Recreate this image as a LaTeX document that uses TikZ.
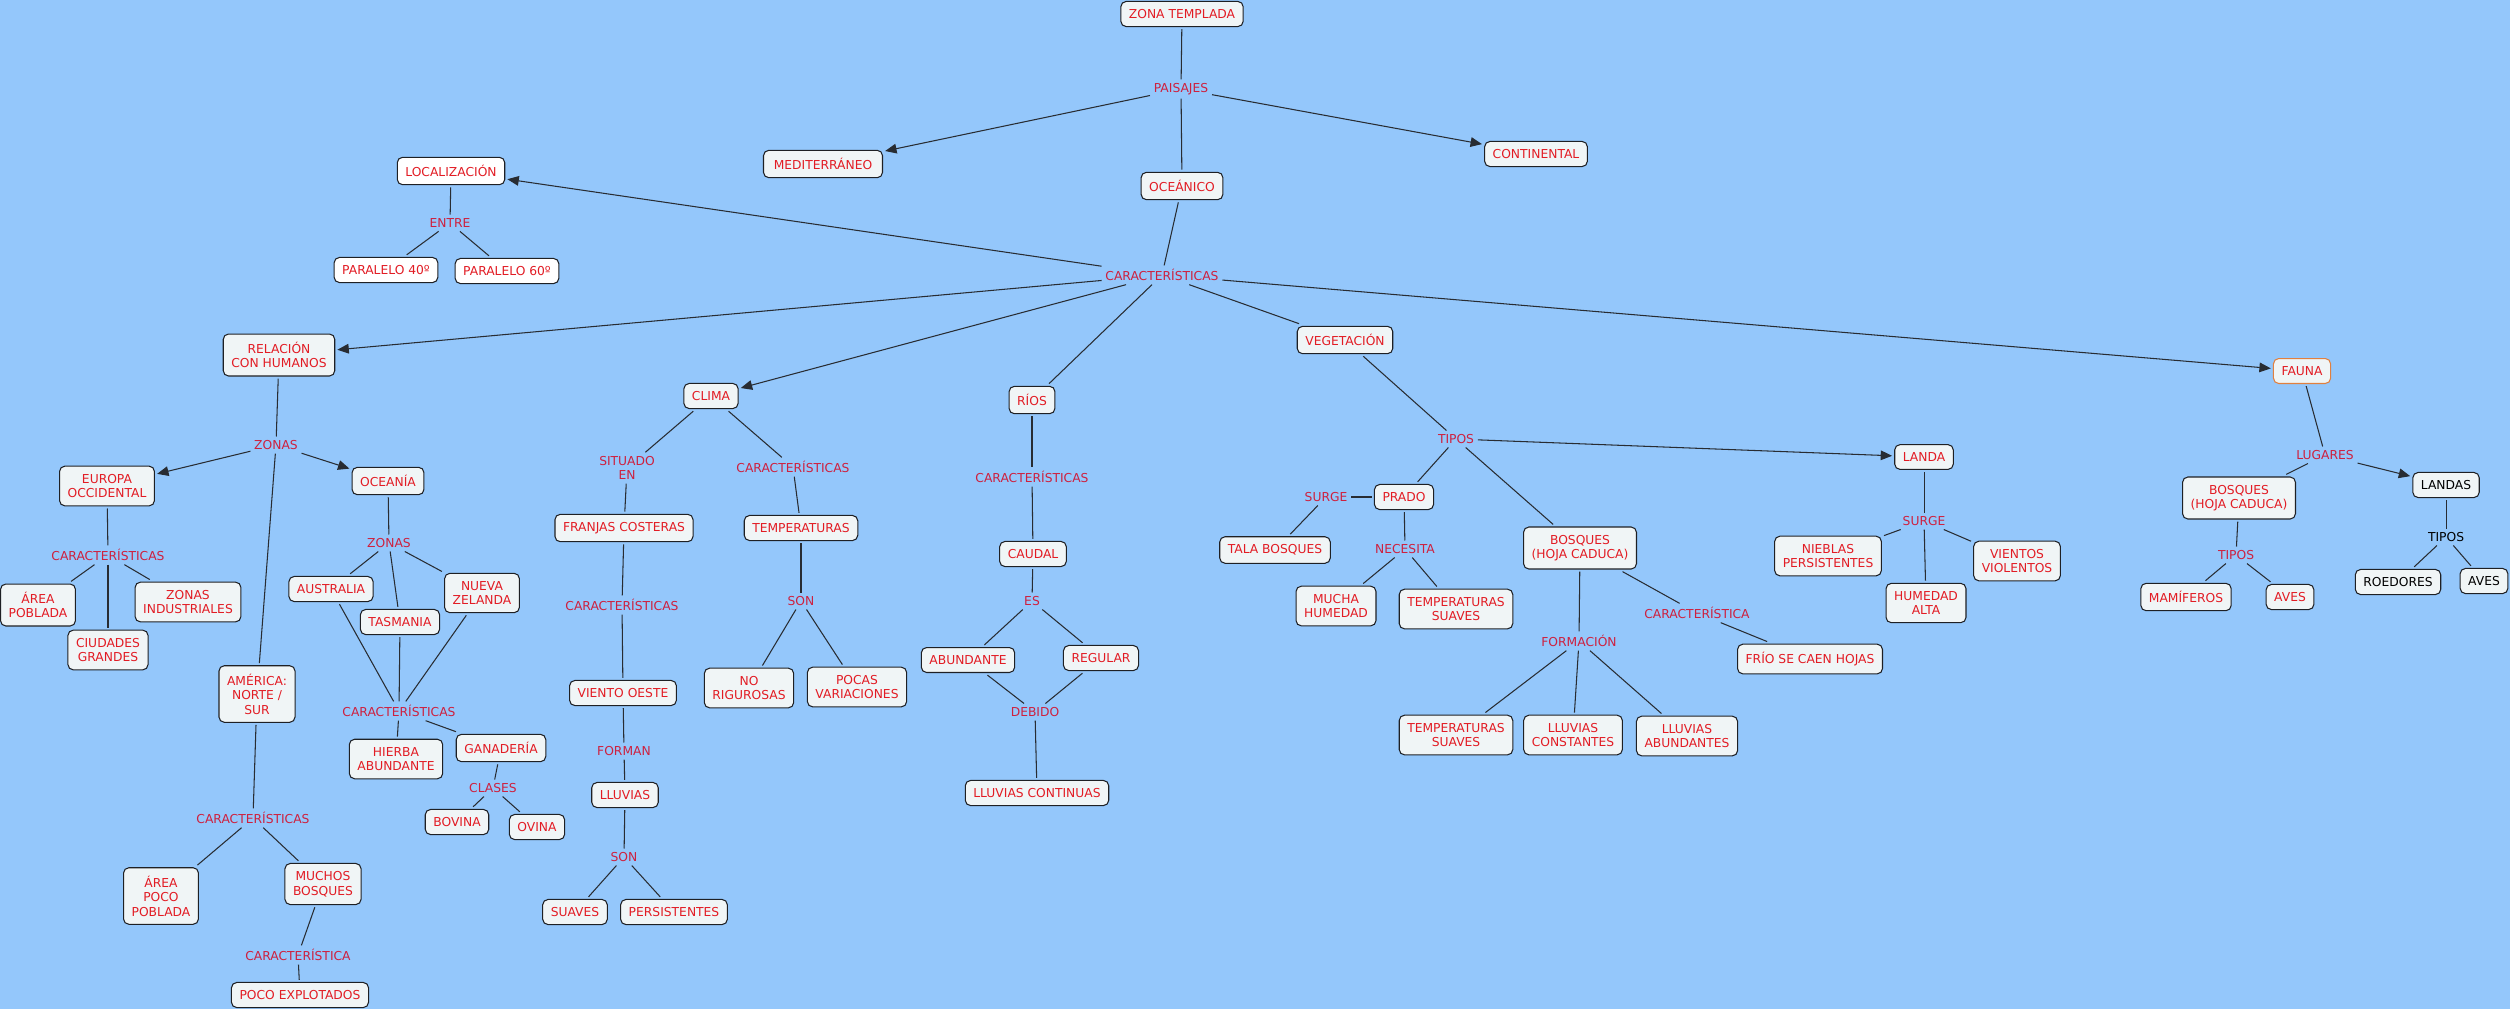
\documentclass[tikz,border=0pt]{standalone}
\usepackage{fontspec}
\setmainfont{DejaVu Sans}
\usepackage{tikz}
\usetikzlibrary{arrows.meta}
\definecolor{MapBlue}{RGB}{148,199,251}
\definecolor{ConceptRed}{RGB}{226,28,36}
\definecolor{LinkRed}{RGB}{206,32,62}
\definecolor{BoxFill}{RGB}{240,245,246}
\definecolor{BoxBorder}{RGB}{30,32,36}
\definecolor{LineGray}{RGB}{40,44,50}
\definecolor{FaunaOrange}{RGB}{224,128,64}
\newcommand{\mapfont}{\fontsize{7pt}{8.3pt}\selectfont}

\begin{document}
\begin{tikzpicture}[
    x=0.02cm, y=-0.02cm,
    box/.style={draw=BoxBorder, fill=BoxFill, rectangle, rounded corners=3pt, align=center, text=ConceptRed, inner xsep=4.6pt, inner ysep=4.5pt, outer sep=1.5pt, line width=0.6pt, font=\mapfont},
    boxdark/.style={box, text=black},
    link/.style={rectangle, align=center, text=LinkRed, inner sep=2pt, font=\mapfont},
    linkdark/.style={link, text=black},
    conn/.style={line width=0.6pt, draw=LineGray},
    arrow/.style={-{Triangle[length=6.5pt,width=5.5pt]}, line width=0.6pt, draw=LineGray}
]
\fill[MapBlue] (0,0) rectangle (2510,1009);
\useasboundingbox (0,0) rectangle (2510,1009);

\node (zt) [box] at (1182,14) {ZONA TEMPLADA};
\node (paisajes) [link] at (1181,89) {PAISAJES};
\node (med) [box, minimum width=2.38cm] at (823,164) {MEDITERRÁNEO};
\node (oce) [box] at (1182,186) {OCEÁNICO};
\node (cont) [box] at (1536,154) {CONTINENTAL};
\node (car) [link] at (1162,275) {CARACTERÍSTICAS};

\node (loc) [box, fill=white] at (451,171) {LOCALIZACIÓN};
\node (entre) [link] at (450,223) {ENTRE};
\node (p40) [box, fill=white] at (386,270) {PARALELO 40º};
\node (p60) [box, fill=white] at (507,271) {PARALELO 60º};

\node (rel) [box] at (279,355) {RELACIÓN\\CON HUMANOS};
\node (zonas) [link] at (276,445) {ZONAS};
\node (eur) [box] at (107,486) {EUROPA\\OCCIDENTAL};
\node (careu) [link] at (108,555) {CARACTERÍSTICAS};
\node (areap) [box] at (38,605) {ÁREA\\POBLADA};
\node (zind) [box] at (188,602) {ZONAS\\INDUSTRIALES};
\node (ciud) [box] at (108,650) {CIUDADES\\GRANDES};
\node (ocea) [box] at (388,481) {OCEANÍA};
\node (zonas2) [link] at (389,543) {ZONAS};
\node (aus) [box] at (331,589) {AUSTRALIA};
\node (tas) [box] at (400,622) {TASMANIA};
\node (nz) [box] at (482,593) {NUEVA\\ZELANDA};
\node (caroc) [link] at (399,711) {CARACTERÍSTICAS};
\node (hier) [box] at (396,759) {HIERBA\\ABUNDANTE};
\node (gan) [box] at (501,748) {GANADERÍA};
\node (clases) [link] at (493,788) {CLASES};
\node (bov) [box] at (457,822) {BOVINA};
\node (ovi) [box] at (537,827) {OVINA};
\node (ame) [box] at (257,694) {AMÉRICA:\\NORTE /\\SUR};
\node (caram) [link] at (253,818) {CARACTERÍSTICAS};
\node (apoco) [box] at (161,896) {ÁREA\\POCO\\POBLADA};
\node (mbos) [box] at (323,884) {MUCHOS\\BOSQUES};
\node (carmb) [link] at (298,955) {CARACTERÍSTICA};
\node (pexp) [box] at (300,995) {POCO EXPLOTADOS};

\node (clima) [box] at (711,396) {CLIMA};
\node (sit) [link] at (627,468) {SITUADO\\EN};
\node (franj) [box] at (624,528) {FRANJAS COSTERAS};
\node (carfr) [link] at (622,605) {CARACTERÍSTICAS};
\node (viento) [box] at (623,693) {VIENTO OESTE};
\node (forman) [link] at (624,751) {FORMAN};
\node (lluv) [box] at (625,795) {LLUVIAS};
\node (son1) [link] at (624,857) {SON};
\node (suav) [box] at (575,912) {SUAVES};
\node (pers) [box] at (674,912) {PERSISTENTES};
\node (carcl) [link] at (793,467) {CARACTERÍSTICAS};
\node (temp) [box] at (801,528) {TEMPERATURAS};
\node (son2) [link] at (801,601) {SON};
\node (norig) [box] at (749,688) {NO\\RIGUROSAS};
\node (pvar) [box] at (857,687) {POCAS\\VARIACIONES};

\node (rios) [box] at (1032,400) {RÍOS};
\node (carri) [link] at (1032,477) {CARACTERÍSTICAS};
\node (caudal) [box] at (1033,554) {CAUDAL};
\node (es) [link] at (1032,601) {ES};
\node (abun) [box] at (968,660) {ABUNDANTE};
\node (reg) [box] at (1101,658) {REGULAR};
\node (debido) [link] at (1035,712) {DEBIDO};
\node (lcont) [box] at (1037,793) {LLUVIAS CONTINUAS};

\node (veg) [box] at (1345,340) {VEGETACIÓN};
\node (tipos) [link] at (1456,439) {TIPOS};
\node (prado) [box] at (1404,497) {PRADO};
\node (surge1) [link] at (1326,497) {SURGE};
\node (tala) [box] at (1275,550) {TALA BOSQUES};
\node (necesita) [link] at (1405,549) {NECESITA};
\node (mhum) [box] at (1336,606) {MUCHA\\HUMEDAD};
\node (tsuav) [box] at (1456,609) {TEMPERATURAS\\SUAVES};
\node (bhc) [box] at (1580,548) {BOSQUES\\(HOJA CADUCA)};
\node (form) [link] at (1579,641) {FORMACIÓN};
\node (tsuav2) [box] at (1456,735) {TEMPERATURAS\\SUAVES};
\node (lconst) [box] at (1573,735) {LLUVIAS\\CONSTANTES};
\node (labun) [box] at (1687,736) {LLUVIAS\\ABUNDANTES};
\node (carbo) [link] at (1697,613) {CARACTERÍSTICA};
\node (frio) [box] at (1810,659) {FRÍO SE CAEN HOJAS};
\node (landa) [box] at (1924,457) {LANDA};
\node (surge2) [link] at (1924,521) {SURGE};
\node (nieb) [box] at (1828,556) {NIEBLAS\\PERSISTENTES};
\node (hal) [box] at (1926,603) {HUMEDAD\\ALTA};
\node (vvio) [box] at (2017,561) {VIENTOS\\VIOLENTOS};

\node (fauna) [box, draw=FaunaOrange] at (2302,371) {FAUNA};
\node (lugares) [link] at (2325,455) {LUGARES};
\node (bhc2) [box] at (2239,498) {BOSQUES\\(HOJA CADUCA)};
\node (tipos2) [link] at (2236,555) {TIPOS};
\node (mam) [box] at (2186,597) {MAMÍFEROS};
\node (aves1) [box] at (2290,597) {AVES};
\node (landas) [boxdark] at (2446,485) {LANDAS};
\node (tipos3) [linkdark] at (2446,537) {TIPOS};
\node (roed) [boxdark] at (2398,582) {ROEDORES};
\node (aves2) [boxdark] at (2484,581) {AVES};

\draw [conn] (zt) -- (paisajes);
\draw [arrow] (paisajes) -- (med);
\draw [arrow] (paisajes) -- (cont);
\draw [conn] (paisajes) -- (oce);
\draw [conn] (oce) -- (car);
\draw [arrow] (car) -- (loc);
\draw [arrow] (car) -- (rel);
\draw [arrow] (car) -- (clima);
\draw [conn] (car) -- (rios);
\draw [conn] (car) -- (veg);
\draw [arrow] (car) -- (fauna);

\draw [conn] (loc) -- (entre);
\draw [conn] (entre) -- (p40);
\draw [conn] (entre) -- (p60);

\draw [conn] (rel) -- (zonas);
\draw [arrow] (zonas) -- (eur);
\draw [arrow] (zonas) -- (ocea);
\draw [conn] (zonas) -- (ame);
\draw [conn] (eur) -- (careu);
\draw [conn] (careu) -- (areap);
\draw [conn] (careu) -- (ciud);
\draw [conn] (careu) -- (zind);
\draw [conn] (ocea) -- (zonas2);
\draw [conn] (zonas2) -- (aus);
\draw [conn] (zonas2) -- (tas);
\draw [conn] (zonas2) -- (nz);
\draw [conn] (aus) -- (caroc);
\draw [conn] (tas) -- (caroc);
\draw [conn] (nz) -- (caroc);
\draw [conn] (caroc) -- (hier);
\draw [conn] (caroc) -- (gan);
\draw [conn] (gan) -- (clases);
\draw [conn] (clases) -- (bov);
\draw [conn] (clases) -- (ovi);
\draw [conn] (ame) -- (caram);
\draw [conn] (caram) -- (apoco);
\draw [conn] (caram) -- (mbos);
\draw [conn] (mbos) -- (carmb);
\draw [conn] (carmb) -- (pexp);

\draw [conn] (clima) -- (sit);
\draw [conn] (clima) -- (carcl);
\draw [conn] (sit) -- (franj);
\draw [conn] (franj) -- (carfr);
\draw [conn] (carfr) -- (viento);
\draw [conn] (viento) -- (forman);
\draw [conn] (forman) -- (lluv);
\draw [conn] (lluv) -- (son1);
\draw [conn] (son1) -- (suav);
\draw [conn] (son1) -- (pers);
\draw [conn] (carcl) -- (temp);
\draw [conn] (temp) -- (son2);
\draw [conn] (son2) -- (norig);
\draw [conn] (son2) -- (pvar);

\draw [conn] (rios) -- (carri);
\draw [conn] (carri) -- (caudal);
\draw [conn] (caudal) -- (es);
\draw [conn] (es) -- (abun);
\draw [conn] (es) -- (reg);
\draw [conn] (abun) -- (debido);
\draw [conn] (reg) -- (debido);
\draw [conn] (debido) -- (lcont);

\draw [conn] (veg) -- (tipos);
\draw [conn] (tipos) -- (prado);
\draw [conn] (tipos) -- (bhc);
\draw [arrow] (tipos) -- (landa);
\draw [conn] (prado) -- (surge1);
\draw [conn] (surge1) -- (tala);
\draw [conn] (prado) -- (necesita);
\draw [conn] (necesita) -- (mhum);
\draw [conn] (necesita) -- (tsuav);
\draw [conn] (bhc) -- (form);
\draw [conn] (form) -- (tsuav2);
\draw [conn] (form) -- (lconst);
\draw [conn] (form) -- (labun);
\draw [conn] (bhc) -- (carbo);
\draw [conn] (carbo) -- (frio);
\draw [conn] (landa) -- (surge2);
\draw [conn] (surge2) -- (nieb);
\draw [conn] (surge2) -- (hal);
\draw [conn] (surge2) -- (vvio);

\draw [conn] (fauna) -- (lugares);
\draw [conn] (lugares) -- (bhc2);
\draw [arrow] (lugares) -- (landas);
\draw [conn] (bhc2) -- (tipos2);
\draw [conn] (tipos2) -- (mam);
\draw [conn] (tipos2) -- (aves1);
\draw [conn] (landas) -- (tipos3);
\draw [conn] (tipos3) -- (roed);
\draw [conn] (tipos3) -- (aves2);

\end{tikzpicture}
\end{document}
